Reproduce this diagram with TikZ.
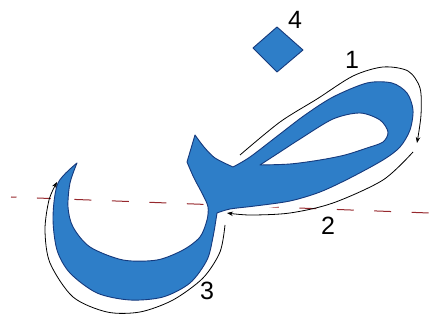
\documentclass[tikz,border=0pt]{standalone}
\usepackage{fontspec}
\setmainfont{Liberation Sans}
\usetikzlibrary{arrows.meta}
\definecolor{letterblue}{RGB}{46,126,200}
\definecolor{edgeblue}{RGB}{22,58,125}
\definecolor{basered}{RGB}{150,40,45}
\begin{document}
\begin{tikzpicture}[x=1pt, y=-1pt,
  num/.style={font=\fontsize{25}{25}\selectfont, inner sep=0pt},
  halo/.style={draw=white, line width=7pt, line join=round},
  ink/.style={fill=letterblue, draw=edgeblue, line width=0.9pt, even odd rule, line join=round},
  stroke/.style={draw=black, line width=0.8pt, -{Stealth[length=6pt, width=4.5pt]}}
]
\useasboundingbox (0,0) rectangle (429,323);
\draw[basered, line width=1pt, dash pattern=on 17pt off 20.5pt, dash phase=11.5pt] (11,197) -- (429,213);
\def\letterpath{
  plot[smooth] coordinates {(77,163) (70,183) (68,207) (73,227) (90,247) (123,260) (157,260) (183,250) (200,237) (207,220) (208,207) (203,195) (194,178) (187,162)}
  -- (195,135)
  -- plot[smooth] coordinates {(195,135) (204,147) (215,158) (233,167)}
  -- plot[smooth] coordinates {(233,167) (250,157) (280,134) (305,115) (333,97) (367,83) (392,83) (407,93) (413,110) (410,130) (400,147) (383,160) (350,178) (320,192) (290,201) (255,206) (230,209) (217,213)}
  -- plot[smooth] coordinates {(217,213) (213,237) (207,260) (190,283) (163,297) (130,300) (97,293) (70,273) (57,250) (53,217) (58,183) (77,163)}
  -- cycle
  (260,165) -- plot[smooth] coordinates {(260,165) (280,152) (300,139) (333,119) (360,113) (380,120) (388,132) (383,142) (367,148) (345,155) (320,160) (290,164) (260,165)} -- cycle
}
\path[halo] \letterpath;
\path[ink] \letterpath;
\filldraw[fill=letterblue, draw=edgeblue, line width=0.9pt, line join=round] (253,48) -- (277,27) -- (303,50) -- (277,72) -- cycle;
\draw[stroke] plot[smooth] coordinates {(240,155) (280,122) (317,99) (353,76) (383,67) (408,71) (420,88) (421,115) (417,143)};
\draw[stroke] plot[smooth] coordinates {(413,152) (383,180) (333,203) (290,213) (250,215) (227,213)};
\draw[stroke] plot[smooth] coordinates {(225,225) (220,252) (203,278) (173,300) (140,312) (107,312) (73,297) (50,263) (45,230) (49,200) (57,182)};
\foreach \n/\x/\y in {1/352/60, 2/328/226, 3/207/291, 4/295/20}
  \node[num] (lbl\n) at (\x,\y) {\n};
\end{tikzpicture}
\end{document}
